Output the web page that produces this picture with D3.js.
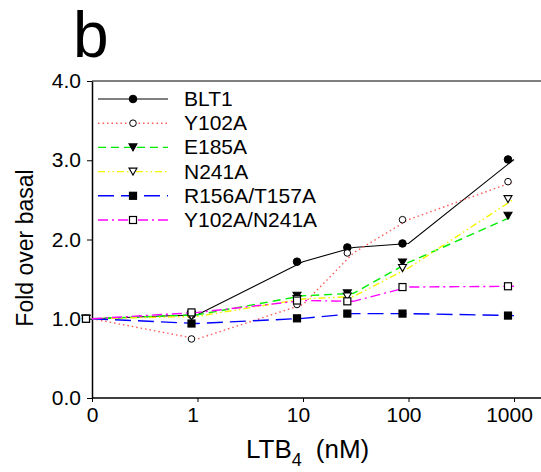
<!DOCTYPE html>
<html>
<head>
<meta charset="utf-8">
<script src="https://cdn.jsdelivr.net/npm/d3@7"></script>
<style>
  html, body { margin: 0; padding: 0; background: #fff; }
  svg { display: block; font-family: "Liberation Sans", Arial, sans-serif; }
</style>
</head>
<body>
<svg id="chart" width="541" height="472"></svg>
<script>
// ---- data ----
const concentrations = [0, 1, 10, 30, 100, 1000];          // nM (0 = basal, drawn at axis origin)
const xTickValues = [0, 1, 10, 100, 1000];
const xTickLabels = ["0", "1", "10", "100", "1000"];
const yTickValues = [0, 1, 2, 3, 4];
const yTickLabels = ["0.0", "1.0", "2.0", "3.0", "4.0"];
const seriesNames = ["BLT1", "Y102A", "E185A", "N241A", "R156A/T157A", "Y102A/N241A"];
const blt1      = [1.00, 1.05, 1.72, 1.90, 1.95, 3.01];
const y102a     = [1.00, 0.745, 1.18, 1.83, 2.25, 2.73];
const e185a     = [1.00, 1.05, 1.29, 1.32, 1.71, 2.30];
const n241a     = [1.00, 1.03, 1.25, 1.28, 1.64, 2.51];
const r156t157  = [1.00, 0.94, 1.005, 1.065, 1.065, 1.04];
const y102n241  = [1.00, 1.08, 1.23, 1.22, 1.40, 1.41];
const seriesValues = [blt1, y102a, e185a, n241a, r156t157, y102n241];

// ---- styles ----
const styles = [
  { color: "#000000", dash: null,              marker: "circle",   fill: "#000" },
  { color: "#ff5a5a", dash: "1.5,3",           marker: "circle",   fill: "#fff" },
  { color: "#00ee00", dash: "8,5",             marker: "triangle", fill: "#000" },
  { color: "#f5f500", dash: "7,3,1.5,3,1.5,3", marker: "triangle", fill: "#fff" },
  { color: "#0000ff", dash: "16,7",            marker: "square",   fill: "#000" },
  { color: "#ff00ff", dash: "10,4,2,4",        marker: "square",   fill: "#fff" }
];

const svg = d3.select("#chart");
const zeroPos = 0.1; // "0" is placed one decade below 1 on the broken log axis
const xv = c => (c === 0 ? zeroPos : c);

const x = d3.scaleLog().domain([zeroPos, 1000]).range([92, 514]);
const y = d3.scaleLinear().domain([0, 4]).range([398, 81]);
const markerShift = -6;
const labelShift = -5;

// panel letter
svg.append("text").attr("x", 73).attr("y", 57)
  .attr("font-size", 64).text("b");

// top frame line
svg.append("line").attr("x1", 92).attr("x2", 541)
  .attr("y1", y(4)).attr("y2", y(4))
  .attr("stroke", "#000").attr("stroke-width", 1.2);

// x axis
const xAxis = d3.axisBottom(x).tickValues(xTickValues.map(xv))
  .tickFormat((d, i) => xTickLabels[i]).tickSize(4).tickSizeOuter(0);
const gx = svg.append("g").attr("transform", `translate(0,${y(0)})`).call(xAxis);
gx.select(".domain").remove();
gx.append("line").attr("x1", 92).attr("x2", 541).attr("y1", 0).attr("y2", 0)
  .attr("stroke", "#000").attr("stroke-width", 1.5);
gx.selectAll(".tick line").attr("stroke", "#000");
gx.selectAll(".tick text").attr("font-size", 21).attr("font-family", "Liberation Sans, Arial, sans-serif")
  .attr("fill", "#000").attr("y", 9).attr("dx", (d, i) => i === 0 ? 0 : labelShift);

// y axis
const yAxis = d3.axisLeft(y).tickValues(yTickValues)
  .tickFormat((d, i) => yTickLabels[i]).tickSize(5).tickSizeOuter(0);
const gy = svg.append("g").attr("transform", `translate(92,0)`).call(yAxis);
gy.select(".domain").attr("stroke", "#000").attr("stroke-width", 1.5);
gy.selectAll(".tick line").attr("stroke", "#000");
gy.selectAll(".tick text").attr("font-size", 21).attr("font-family", "Liberation Sans, Arial, sans-serif")
  .attr("fill", "#000").attr("x", -11);

// axis titles
svg.append("text").attr("transform", "translate(33,248) rotate(-90)")
  .attr("text-anchor", "middle").attr("font-size", 23).text("Fold over basal");
const xt = svg.append("text").attr("x", 246).attr("y", 458).attr("font-size", 26);
xt.append("tspan").text("LTB");
xt.append("tspan").attr("font-size", 18).attr("dy", 8).text("4");
xt.append("tspan").attr("dy", -8).attr("dx", 14).text("(nM)");

// markers
function drawMarker(g, type, fill, cx, cy) {
  if (type === "circle") {
    g.append("circle").attr("cx", cx).attr("cy", cy)
      .attr("r", fill === "#000" ? 3.8 : 3.3)
      .attr("fill", fill).attr("stroke", "#000").attr("stroke-width", 1);
  } else if (type === "square") {
    const s = 7;
    g.append("rect").attr("x", cx - s / 2).attr("y", cy - s / 2).attr("width", s).attr("height", s)
      .attr("fill", fill).attr("stroke", "#000").attr("stroke-width", 1.2);
  } else {
    const w = 8, h = 7;
    g.append("path")
      .attr("d", `M${cx - w / 2},${cy - h / 2}L${cx + w / 2},${cy - h / 2}L${cx},${cy + h / 2}Z`)
      .attr("fill", fill).attr("stroke", "#000").attr("stroke-width", 1.1);
  }
}

const line = d3.line().x(d => x(xv(d.c))).y(d => y(d.v));

seriesValues.forEach((vals, si) => {
  const st = styles[si];
  const pts = concentrations.map((c, i) => ({ c, v: vals[i] }));
  const g = svg.append("g");
  g.append("path").attr("d", line(pts)).attr("fill", "none")
    .attr("stroke", st.color).attr("stroke-width", si === 0 ? 1.1 : 1.4)
    .attr("stroke-dasharray", st.dash);
  pts.forEach(p => drawMarker(g, st.marker, st.fill, x(xv(p.c)) + markerShift, y(p.v)));
});

// legend
const legY0 = 99, legDy = 24.2;
seriesNames.forEach((name, i) => {
  const st = styles[i];
  const ly = legY0 + i * legDy;
  const g = svg.append("g");
  g.append("line").attr("x1", 98).attr("x2", 168).attr("y1", ly).attr("y2", ly)
    .attr("stroke", st.color).attr("stroke-width", i === 0 ? 1.1 : 1.4)
    .attr("stroke-dasharray", st.dash);
  drawMarker(g, st.marker, st.fill, 133, ly);
  g.append("text").attr("x", 184).attr("y", ly + 7).attr("font-size", 21).text(name);
});
</script>
</body>
</html>
